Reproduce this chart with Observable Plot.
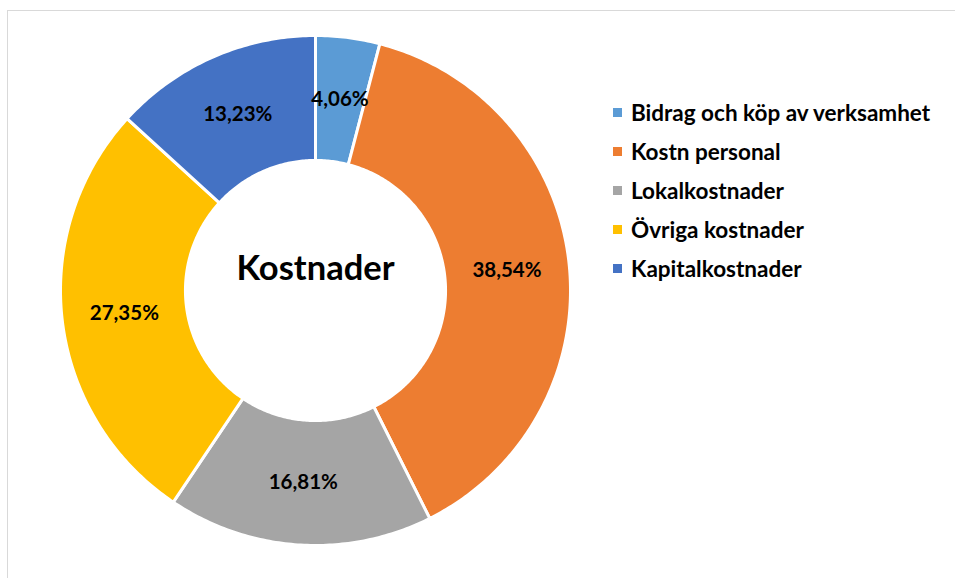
<!DOCTYPE html>
<html>
<head>
<meta charset="utf-8">
<script src="https://cdn.jsdelivr.net/npm/d3@7"></script>
<script src="https://cdn.jsdelivr.net/npm/@observablehq/plot@0.6"></script>
<style>
  html, body { margin: 0; padding: 0; background: #fff; }
  #wrap { position: relative; width: 955px; height: 578px; overflow: hidden; font-family: Lato, "Open Sans", sans-serif; }
  #frame { position: absolute; left: 7px; top: 10px; width: 960px; height: 600px; border-left: 1.5px solid #d9d9d9; border-top: 1.5px solid #d9d9d9; box-sizing: border-box; }
  #chart { position: absolute; left: 0; top: 0; }
  #legend { position: absolute; left: 613px; top: 93px; }
  .item { display: flex; align-items: center; height: 39px; font-weight: 700; font-size: 22.5px; color: #000; white-space: nowrap; }
  .sw { width: 9px; height: 9px; margin-right: 9px; flex: none; }
</style>
</head>
<body>
<div id="wrap">
  <div id="frame"></div>
  <div id="chart"></div>
  <div id="legend"></div>
</div>
<script>
const categories = ["Bidrag och köp av verksamhet", "Kostn personal", "Lokalkostnader", "Övriga kostnader", "Kapitalkostnader"];
const values = [4.06, 38.54, 16.81, 27.35, 13.23];
const colors = ["#5B9BD5", "#ED7D31", "#A5A5A5", "#FFC000", "#4472C4"];
const centerTitle = "Kostnader";

const W = 955, H = 578;
const cx = 315, cy = 290, R = 255;
const inner = 0.51;

const pie = d3.pie().sort(null).value(d => d.value)(categories.map((c, i) => ({key: c, value: values[i]})));

// polygon points for each slice (unit circle coordinates, angle clockwise from top)
const pts = [];
for (const s of pie) {
  const n = Math.max(8, Math.ceil((s.endAngle - s.startAngle) * 80));
  for (let k = 0; k <= n; k++) {
    const a = s.startAngle + (s.endAngle - s.startAngle) * k / n;
    pts.push({key: s.data.key, x: Math.sin(a), y: Math.cos(a)});
  }
  for (let k = n; k >= 0; k--) {
    const a = s.startAngle + (s.endAngle - s.startAngle) * k / n;
    pts.push({key: s.data.key, x: inner * Math.sin(a), y: inner * Math.cos(a)});
  }
}
const labelR = (1 + inner) / 2;
const labels = pie.map(s => {
  const a = (s.startAngle + s.endAngle) / 2;
  return {x: labelR * Math.sin(a), y: labelR * Math.cos(a), text: s.data.value.toFixed(2).replace(".", ",") + "%"};
});

const chart = Plot.plot({
  width: W, height: H,
  margin: 0,
  x: {domain: [-cx / R, (W - cx) / R], range: [0, W], axis: null},
  y: {domain: [-(H - cy) / R, cy / R], range: [H, 0], axis: null},
  color: {domain: categories, range: colors},
  style: {background: "transparent", fontFamily: "Lato, 'Open Sans', sans-serif"},
  marks: [
    Plot.line(pts, {x: "x", y: "y", z: "key", fill: "key", stroke: "white", strokeWidth: 3, curve: "linear-closed"}),
    Plot.text(labels, {x: "x", y: "y", text: "text", fontSize: 20.5, fontWeight: "bold", fill: "black"}),
    Plot.text([centerTitle], {x: [0], y: [22 / R], text: d => d, fontSize: 34.5, fontWeight: "bold", fill: "black"})
  ]
});
document.getElementById("chart").appendChild(chart);

const legend = document.getElementById("legend");
categories.forEach((c, i) => {
  const item = document.createElement("div");
  item.className = "item";
  const sw = document.createElement("span");
  sw.className = "sw";
  sw.style.background = colors[i];
  const t = document.createElement("span");
  t.textContent = c;
  item.appendChild(sw);
  item.appendChild(t);
  legend.appendChild(item);
});
</script>
</body>
</html>
